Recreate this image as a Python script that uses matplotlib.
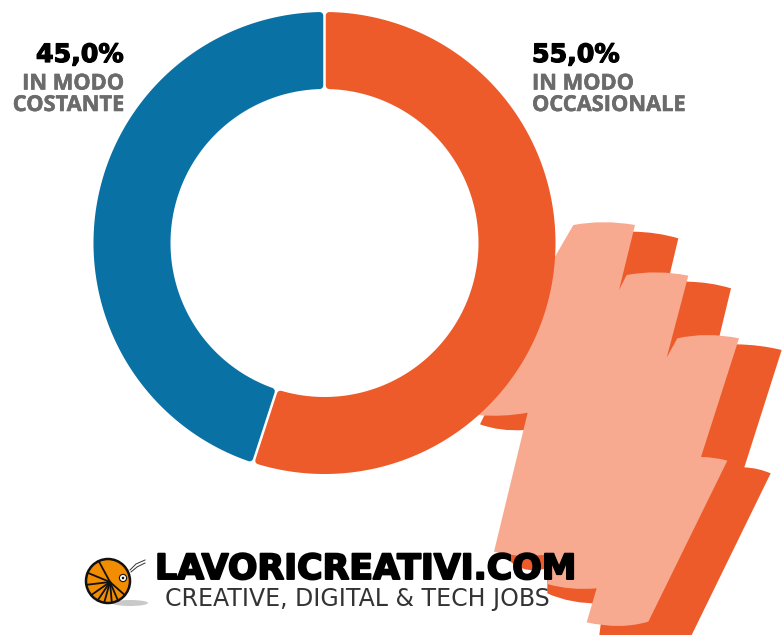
#!/usr/bin/env python3
"""Donut chart with hand cursor and logo, saved to out.png."""
import numpy as np
import matplotlib
matplotlib.use("Agg")
import matplotlib.pyplot as plt
import matplotlib.patheffects as pe
from matplotlib.patches import Circle, Ellipse, PathPatch, Polygon
from matplotlib.path import Path

# data
labels = ["IN MODO\nOCCASIONALE", "IN MODO\nCOSTANTE"]
values = [55.0, 45.0]
value_labels = ["55,0%", "45,0%"]

# colours
ORANGE = "#EC5B29"
BLUE = "#0A71A5"
LIGHT = "#F8AA90"
SHELL = "#F28C00"
GREY = "#6B6B6B"

colors = [ORANGE, BLUE]

CX, CY = 324.5, 243.0
R_OUT, R_IN = 231.0, 154.0
GAP = 2.5
ROUND = 3.5

# hand outlines, traced on a 3x crop taken at (470, 210)
# each entry is an end point, or (control, end) for a curved piece
LIGHT_HAND = [
    (310, 45), ((400, 28), (495, 45)), (447, 240), (470, 195),
    ((560, 178), (655, 197)), (590, 443), (622, 385),
    ((710, 365), (807, 385)), (693, 741), ((735, 741), (772, 752)),
    (535, 1235), ((450, 1260), (350, 1237)), (380, 1135),
    ((300, 1142), (232, 1122)), (255, 1030), ((160, 1048), (72, 1025)),
    (173, 608), ((100, 622), (20, 615)), (100, 400), (255, 140),
]
DARK_HAND = [
    (490, 65), ((560, 66), (625, 85)), (600, 190), (652, 215),
    ((720, 216), (783, 235)), (748, 380), (800, 403),
    ((870, 404), (935, 420)), (823, 772), ((865, 774), (902, 790)),
    (665, 1275), (388, 1275), (400, 1181), ((300, 1182), (232, 1150)),
    (232, 1100), (255, 1065), ((170, 1105), (110, 1045)),
    (165, 660), ((90, 665), (30, 643)), (100, 500),
]

# logo shell spokes, degrees clockwise from top
SPOKES = [-25, -68, -100, -130, -152, -170, 170, 153, 130]


def to_px(pt):
    return 470 + pt[0] / 3, 210 + pt[1] / 3


def hand_path(outline):
    verts = [to_px(outline[0])]
    codes = [Path.MOVETO]
    for seg in outline[1:]:
        if isinstance(seg[0], tuple):
            verts += [to_px(seg[0]), to_px(seg[1])]
            codes += [Path.CURVE3, Path.CURVE3]
        else:
            verts.append(to_px(seg))
            codes.append(Path.LINETO)
    verts.append(verts[0])
    codes.append(Path.CLOSEPOLY)
    return Path(verts, codes)


def ring_sector(start, end):
    # inset stays constant in pixels, so the gap between slices stays even
    inset = GAP / 2 + ROUND
    r_o, r_i = R_OUT - ROUND, R_IN + ROUND
    a_o = np.linspace(start + inset / r_o, end - inset / r_o, 200)
    a_i = np.linspace(end - inset / r_i, start + inset / r_i, 200)
    xs = np.r_[CX + r_o * np.sin(a_o), CX + r_i * np.sin(a_i)]
    ys = np.r_[CY - r_o * np.cos(a_o), CY - r_i * np.cos(a_i)]
    return np.c_[xs, ys]


fig = plt.figure(figsize=(7.82, 6.35), dpi=100)
ax = fig.add_axes([0, 0, 1, 1])
ax.set_xlim(0, 782)
ax.set_ylim(635, 0)
ax.axis("off")

ax.add_patch(PathPatch(hand_path(DARK_HAND), fc=ORANGE, ec="none", zorder=1))
ax.add_patch(PathPatch(hand_path(LIGHT_HAND), fc=LIGHT, ec="none", zorder=2))

# donut, clockwise from the top
edges = np.r_[0, np.cumsum(values)] / sum(values) * 2 * np.pi
for i, col in enumerate(colors):
    ax.add_patch(Polygon(ring_sector(edges[i], edges[i + 1]), closed=True, fc=col, ec=col,
                         lw=ROUND * 2 * 0.72, joinstyle="round", zorder=3))

# labels
heavy = [pe.withStroke(linewidth=0.9, foreground="black")]
semi = [pe.withStroke(linewidth=0.4, foreground=GREY)]
ax.text(124, 62, value_labels[1], ha="right", va="baseline", fontsize=18.2,
        fontweight="bold", family="DejaVu Sans", color="black", zorder=5, path_effects=heavy)
ax.text(532, 62, value_labels[0], ha="left", va="baseline", fontsize=18.2,
        fontweight="bold", family="DejaVu Sans", color="black", zorder=5, path_effects=heavy)
ax.text(124, 111, labels[1], ha="right", va="baseline", fontsize=15.7, fontweight="bold",
        family="Open Sans", color=GREY, linespacing=1.03, zorder=5, path_effects=semi)
ax.text(532, 111, labels[0], ha="left", va="baseline", fontsize=15.7, fontweight="bold",
        family="Open Sans", color=GREY, linespacing=1.03, zorder=5, path_effects=semi)

# logo
ax.text(155, 579, "LAVORICREATIVI.COM", ha="left", va="baseline", fontsize=25,
        fontweight="bold", family="DejaVu Sans", color="black", zorder=6,
        path_effects=[pe.withStroke(linewidth=1.4, foreground="black")])
ax.text(165, 606, "CREATIVE, DIGITAL & TECH JOBS", ha="left", va="baseline", fontsize=17,
        family="DejaVu Sans", color="#333333", zorder=6)

# logo mascot
hub = (110, 582)
ax.add_patch(Ellipse((130, 603), 36, 6, fc="#C9C9C9", ec="none", zorder=4))
ax.add_patch(Circle((108, 581), 22, fc=SHELL, ec="#111111", lw=1.8, zorder=5))
for deg in SPOKES:
    a = np.deg2rad(deg)
    ax.plot([hub[0], 108 + 22 * np.sin(a)], [hub[1], 581 - 22 * np.cos(a)],
            color="#111111", lw=1.3, zorder=5)
ax.add_patch(Circle((123, 578), 3.6, fc="white", ec="#111111", lw=0.8, zorder=6))
ax.add_patch(Circle((123, 578), 1.3, fc="#111111", ec="none", zorder=6))
ax.plot([130, 136, 145], [570, 564, 560], color="#333333", lw=0.7, zorder=5)
ax.plot([131, 137, 145], [572, 567, 563], color="#333333", lw=0.7, zorder=5)

fig.savefig("out.png", dpi=100)
